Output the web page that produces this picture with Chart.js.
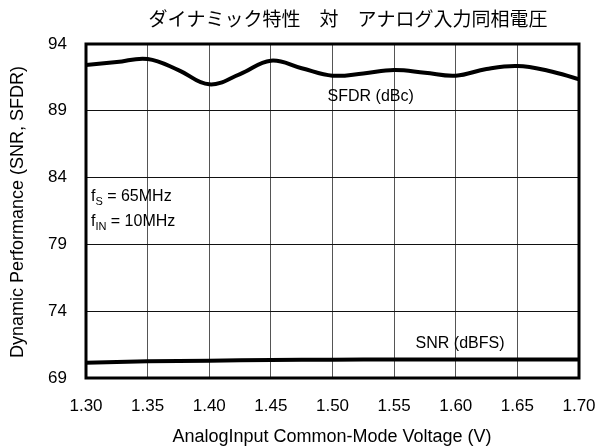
<!DOCTYPE html>
<html>
<head>
<meta charset="utf-8">
<script src="https://cdn.jsdelivr.net/npm/chart.js@4.4.1/dist/chart.umd.min.js"></script>
<style>
  html, body { margin: 0; padding: 0; background: #fff; }
  #wrap { width: 600px; height: 448px; }
</style>
</head>
<body>
<div id="wrap"><canvas id="chart" width="600" height="448"></canvas></div>
<script>
// Daten
const voltages = [1.30, 1.325, 1.35, 1.375, 1.40, 1.425, 1.45, 1.475, 1.50, 1.525, 1.55, 1.575, 1.60, 1.625, 1.65, 1.675, 1.70];
const sfdr = [92.43, 92.65, 92.88, 92.05, 90.98, 91.75, 92.75, 92.18, 91.63, 91.8, 92.05, 91.85, 91.63, 92.13, 92.35, 92.0, 91.36];
const snrVoltages = [1.30, 1.35, 1.40, 1.45, 1.50, 1.55, 1.60, 1.65, 1.70];
const snr = [70.15, 70.25, 70.3, 70.35, 70.37, 70.38, 70.38, 70.38, 70.38];
const xTicks = [1.30, 1.35, 1.40, 1.45, 1.50, 1.55, 1.60, 1.65, 1.70];
const yTicks = [69, 74, 79, 84, 89, 94];

const chartTitle = 'ダイナミック特性　対　アナログ入力同相電圧';
const xTitle = 'AnalogInput Common-Mode Voltage (V)';
const yTitle = 'Dynamic Performance (SNR, SFDR)';

const baseFont = '"Liberation Sans", Arial, Helvetica, sans-serif';

// Titel, Rahmen und Beschriftungen im Diagramm
const extrasPlugin = {
    id: 'extras',
    afterDraw(chart) {
        const ctx = chart.ctx;
        const area = chart.chartArea;
        const xs = chart.scales.x;
        const ys = chart.scales.y;
        ctx.save();

        // Rahmen
        ctx.strokeStyle = '#000';
        ctx.lineWidth = 3;
        ctx.strokeRect(area.left, area.top, area.right - area.left, area.bottom - area.top);

        // Titel
        ctx.fillStyle = '#000';
        ctx.font = '19px "Noto Sans CJK JP", sans-serif';
        ctx.textAlign = 'center';
        ctx.textBaseline = 'middle';
        ctx.fillText(chartTitle, 348, 19);

        // Achsentitel
        ctx.font = '18px ' + baseFont;
        ctx.fillText(xTitle, 332, 437);
        ctx.save();
        ctx.translate(18, 212);
        ctx.rotate(-Math.PI / 2);
        ctx.fillText(yTitle, 0, 0);
        ctx.restore();

        // Kurvenbeschriftungen
        ctx.font = '16px ' + baseFont;
        ctx.textAlign = 'center';
        ctx.fillText('SFDR (dBc)', xs.getPixelForValue(1.531), ys.getPixelForValue(90.1));
        ctx.fillText('SNR (dBFS)', xs.getPixelForValue(1.6035), ys.getPixelForValue(71.6));

        // Testbedingungen mit Indizes
        ctx.textAlign = 'left';
        const drawSub = (main, sub, rest, x, y) => {
            ctx.font = '16px ' + baseFont;
            ctx.fillText(main, x, y);
            let w = ctx.measureText(main).width;
            ctx.font = '11px ' + baseFont;
            ctx.fillText(sub, x + w, y + 5);
            w += ctx.measureText(sub).width;
            ctx.font = '16px ' + baseFont;
            ctx.fillText(rest, x + w, y);
        };
        const lx = xs.getPixelForValue(1.304);
        drawSub('f', 'S', ' = 65MHz', lx, ys.getPixelForValue(82.55));
        drawSub('f', 'IN', ' = 10MHz', lx, ys.getPixelForValue(80.7));

        ctx.restore();
    }
};

const ctx = document.getElementById('chart').getContext('2d');
new Chart(ctx, {
    type: 'line',
    data: {
        datasets: [
            {
                label: 'SFDR (dBc)',
                data: voltages.map((v, i) => ({ x: v, y: sfdr[i] })),
                borderColor: '#000',
                borderWidth: 4,
                pointRadius: 0,
                tension: 0.4,
                fill: false
            },
            {
                label: 'SNR (dBFS)',
                data: snrVoltages.map((v, i) => ({ x: v, y: snr[i] })),
                borderColor: '#000',
                borderWidth: 4,
                pointRadius: 0,
                tension: 0.4,
                fill: false
            }
        ]
    },
    options: {
        responsive: false,
        animation: false,
        layout: { padding: { top: 44, right: 21, left: 0, bottom: 0 } },
        plugins: {
            legend: { display: false },
            title: { display: false },
            tooltip: { enabled: false }
        },
        scales: {
            x: {
                type: 'linear',
                min: 1.3,
                max: 1.7,
                afterBuildTicks: scale => { scale.ticks = xTicks.map(v => ({ value: v })); },
                afterFit: scale => {
                    scale.height = 70;
                    scale.paddingLeft = 0;
                    scale.paddingRight = 0;
                },
                ticks: {
                    color: '#000',
                    font: { family: baseFont, size: 17 },
                    padding: 18,
                    maxRotation: 0,
                    callback: v => Number(v).toFixed(2)
                },
                grid: { color: '#555', lineWidth: 1, drawTicks: false },
                border: { display: false }
            },
            y: {
                min: 69,
                max: 94,
                afterBuildTicks: scale => { scale.ticks = yTicks.map(v => ({ value: v })); },
                afterFit: scale => {
                    scale.width = 86;
                    scale.paddingTop = 0;
                    scale.paddingBottom = 0;
                },
                ticks: {
                    color: '#000',
                    font: { family: baseFont, size: 17 },
                    padding: 19
                },
                grid: { color: '#111', lineWidth: 1, drawTicks: false },
                border: { display: false }
            }
        }
    },
    plugins: [extrasPlugin]
});
</script>
</body>
</html>
